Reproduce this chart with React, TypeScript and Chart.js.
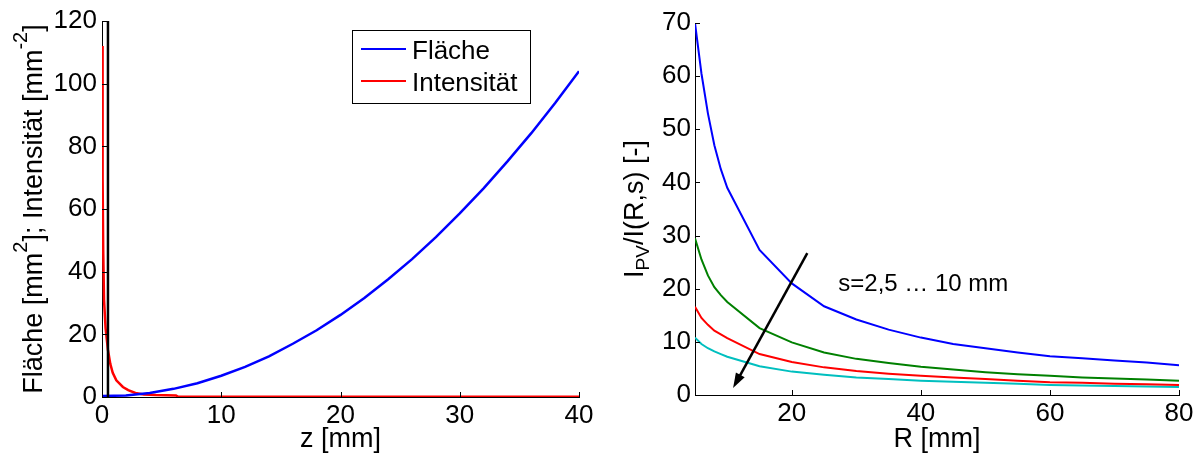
import { useEffect, useRef } from 'react';
import { Chart, registerables } from 'chart.js';

Chart.register(...registerables);

const FONT = "'Liberation Sans', Arial, Helvetica, sans-serif";

// ---------- Left panel: Fläche / Intensität over z ----------
const areaZ = [0, 2, 4, 6, 8, 10, 12, 14, 16, 18, 20, 22, 24, 26, 28, 30, 32, 34, 36, 38, 40];
const areaValues = [0.3, 0.5, 1.3, 2.6, 4.4, 6.8, 9.6, 13, 17, 21.3, 26.2, 31.6, 37.6, 44, 51, 58.6, 66.6, 75.2, 84.2, 93.8, 104];

const intensityZ = [0.02, 0.05, 0.1, 0.17, 0.3, 0.5, 0.7, 0.9, 1.2, 1.75, 2.2, 2.8, 3.5, 4.5, 6.2, 6.4, 40];
const intensityValues = [112, 70, 47, 31, 22, 15, 10.5, 7.7, 5.3, 3.2, 2.2, 1.3, 0.8, 0.6, 0.5, 0.05, 0.05];

const markerZ = [0.5, 0.5];
const markerValues = [0, 120];

const leftXTicks = [0, 10, 20, 30, 40];
const leftYTicks = [0, 20, 40, 60, 80, 100, 120];
const leftLegend = ['Fläche', 'Intensität'];

// ---------- Right panel: I_PV / I(R,s) over R ----------
const radiusR = [5, 6, 7, 8, 9, 10, 15, 20, 25, 30, 35, 40, 45, 50, 55, 60, 65, 70, 75, 80];
const ratioS1 = [70, 60.5, 53, 47, 42.5, 39, 27.3, 21, 16.7, 14.2, 12.3, 10.8, 9.6, 8.8, 8.0, 7.3, 6.9, 6.5, 6.1, 5.6];
const ratioS2 = [29.5, 25.5, 22.5, 20.3, 18.8, 17.5, 12.6, 9.9, 8.0, 6.8, 6.0, 5.3, 4.8, 4.3, 3.9, 3.6, 3.3, 3.1, 2.9, 2.7];
const ratioS3 = [16.6, 14.5, 13.2, 12.1, 11.4, 10.7, 7.7, 6.2, 5.2, 4.5, 4.0, 3.6, 3.3, 3.0, 2.7, 2.4, 2.3, 2.1, 2.0, 1.9];
const ratioS4 = [10.8, 9.6, 8.8, 8.2, 7.7, 7.2, 5.4, 4.4, 3.8, 3.3, 3.0, 2.7, 2.5, 2.3, 2.1, 1.9, 1.8, 1.7, 1.6, 1.5];

const rightXTicks = [20, 40, 60, 80];
const rightYTicks = [0, 10, 20, 30, 40, 50, 60, 70];
const annotationText = 's=2,5 … 10 mm';
const annotationPos = [27.2, 19.6];
const arrowFrom = [22.4, 26.7];
const arrowTo = [10.9, 1.3];

type Seg = { t: string; size: number; dy: number };

function drawRich(ctx: CanvasRenderingContext2D, segs: Seg[], cx: number, cy: number, angle: number) {
  ctx.save();
  ctx.translate(cx, cy);
  ctx.rotate(angle);
  let total = 0;
  const widths = segs.map((s) => {
    ctx.font = `${s.size}px ${FONT}`;
    const w = ctx.measureText(s.t).width;
    total += w;
    return w;
  });
  let x = -total / 2;
  ctx.fillStyle = '#000';
  ctx.textBaseline = 'alphabetic';
  ctx.textAlign = 'left';
  segs.forEach((s, i) => {
    ctx.font = `${s.size}px ${FONT}`;
    ctx.fillText(s.t, x, s.dy);
    x += widths[i];
  });
  ctx.restore();
}

function drawTickMarks(chart: any) {
  const { ctx, chartArea, scales } = chart;
  ctx.save();
  ctx.strokeStyle = '#000';
  ctx.lineWidth = 1;
  ctx.beginPath();
  scales.x.ticks.forEach((t: any) => {
    const px = Math.round(scales.x.getPixelForValue(t.value)) + 0.5;
    ctx.moveTo(px, chartArea.bottom);
    ctx.lineTo(px, chartArea.bottom - 5);
  });
  scales.y.ticks.forEach((t: any) => {
    const py = Math.round(scales.y.getPixelForValue(t.value)) + 0.5;
    ctx.moveTo(chartArea.left, py);
    ctx.lineTo(chartArea.left + 5, py);
  });
  ctx.stroke();
  ctx.restore();
}

const zip = (xs: number[], ys: number[]) => xs.map((x, i) => ({ x, y: ys[i] }));

const leftPlugin = {
  id: 'leftDecor',
  afterDraw(chart: any) {
    const { ctx, chartArea } = chart;
    drawTickMarks(chart);
    const cy = (chartArea.top + chartArea.bottom) / 2;
    drawRich(
      ctx,
      [
        { t: 'Fläche [mm', size: 27, dy: 0 },
        { t: '2', size: 20, dy: -15 },
        { t: ']; Intensität [mm', size: 27, dy: 0 },
        { t: '-2', size: 20, dy: -15 },
        { t: ']', size: 27, dy: 0 },
      ],
      42,
      cy,
      -Math.PI / 2
    );
    drawRich(ctx, [{ t: 'z [mm]', size: 27, dy: 0 }], (chartArea.left + chartArea.right) / 2, 447, 0);

    // legend
    ctx.save();
    ctx.fillStyle = '#fff';
    ctx.fillRect(352.5, 30.5, 178, 73);
    ctx.strokeStyle = '#000';
    ctx.lineWidth = 1;
    ctx.strokeRect(352.5, 30.5, 178, 73);
    const cols = ['#0000ff', '#ff0000'];
    const rows = [49, 81];
    ctx.font = `26px ${FONT}`;
    ctx.textBaseline = 'alphabetic';
    ctx.textAlign = 'left';
    leftLegend.forEach((lbl, i) => {
      ctx.strokeStyle = cols[i];
      ctx.lineWidth = 2;
      ctx.beginPath();
      ctx.moveTo(361, rows[i]);
      ctx.lineTo(406, rows[i]);
      ctx.stroke();
      ctx.fillStyle = '#000';
      ctx.fillText(lbl, 412, rows[i] + 9.5);
    });
    ctx.restore();
  },
};

const rightPlugin = {
  id: 'rightDecor',
  afterDraw(chart: any) {
    const { ctx, chartArea, scales } = chart;
    drawTickMarks(chart);
    const cy = (chartArea.top + chartArea.bottom) / 2;
    drawRich(
      ctx,
      [
        { t: 'I', size: 27, dy: 0 },
        { t: 'PV', size: 19, dy: 6 },
        { t: '/I(R,s) [-]', size: 27, dy: 0 },
      ],
      43,
      cy,
      -Math.PI / 2
    );
    drawRich(ctx, [{ t: 'R [mm]', size: 27, dy: 0 }], (chartArea.left + chartArea.right) / 2, 447, 0);

    // annotation text
    ctx.save();
    ctx.font = `24px ${FONT}`;
    ctx.fillStyle = '#000';
    ctx.textAlign = 'left';
    ctx.textBaseline = 'alphabetic';
    ctx.fillText(annotationText, scales.x.getPixelForValue(annotationPos[0]), scales.y.getPixelForValue(annotationPos[1]));

    // arrow
    const x1 = scales.x.getPixelForValue(arrowFrom[0]);
    const y1 = scales.y.getPixelForValue(arrowFrom[1]);
    const x2 = scales.x.getPixelForValue(arrowTo[0]);
    const y2 = scales.y.getPixelForValue(arrowTo[1]);
    const ang = Math.atan2(y2 - y1, x2 - x1);
    const headLen = 15;
    const headW = 5;
    const bx = x2 - headLen * Math.cos(ang);
    const by = y2 - headLen * Math.sin(ang);
    ctx.strokeStyle = '#000';
    ctx.lineWidth = 2.5;
    ctx.beginPath();
    ctx.moveTo(x1, y1);
    ctx.lineTo(bx + 3 * Math.cos(ang), by + 3 * Math.sin(ang));
    ctx.stroke();
    ctx.fillStyle = '#000';
    ctx.beginPath();
    ctx.moveTo(x2, y2);
    ctx.lineTo(bx + headW * Math.sin(ang), by - headW * Math.cos(ang));
    ctx.lineTo(bx - headW * Math.sin(ang), by + headW * Math.cos(ang));
    ctx.closePath();
    ctx.fill();
    ctx.restore();
  },
};

function makeScale(min: number, max: number, ticks: number[], axis: 'x' | 'y', fitSize: number, pad: number) {
  return {
    type: 'linear',
    min,
    max,
    grid: { display: false, drawTicks: false },
    border: { display: true, color: '#000', width: 1 },
    ticks: { color: '#000', font: { family: FONT, size: 26 }, padding: pad },
    afterBuildTicks: (s: any) => {
      s.ticks = ticks.map((v) => ({ value: v }));
    },
    afterFit: (s: any) => {
      if (axis === 'x') s.height = fitSize;
      else s.width = fitSize;
    },
  } as any;
}

export default function App() {
  const leftRef = useRef<HTMLCanvasElement>(null);
  const rightRef = useRef<HTMLCanvasElement>(null);

  useEffect(() => {
    Chart.defaults.color = '#000';
    const left = new Chart(leftRef.current!, {
      type: 'line',
      data: {
        datasets: [
          { label: 'marker', data: zip(markerZ, markerValues), borderColor: '#000', borderWidth: 2.5, pointRadius: 0 },
          { label: leftLegend[0], data: zip(areaZ, areaValues), borderColor: '#0000ff', borderWidth: 2.5, pointRadius: 0 },
          { label: leftLegend[1], data: zip(intensityZ, intensityValues), borderColor: '#ff0000', borderWidth: 2.5, pointRadius: 0 },
        ],
      },
      options: {
        animation: false,
        responsive: false,
        events: [],
        layout: { padding: { left: 0, top: 21, right: 21, bottom: 0 } },
        elements: { line: { tension: 0 } },
        plugins: { legend: { display: false }, tooltip: { enabled: false } },
        scales: {
          x: makeScale(0, 40, leftXTicks, 'x', 62, 3),
          y: makeScale(0, 120, leftYTicks, 'y', 102, 5),
        },
      } as any,
      plugins: [leftPlugin],
    });

    const right = new Chart(rightRef.current!, {
      type: 'line',
      data: {
        datasets: [
          { label: 's1', data: zip(radiusR, ratioS1), borderColor: '#0000ff', borderWidth: 2, pointRadius: 0 },
          { label: 's2', data: zip(radiusR, ratioS2), borderColor: '#008000', borderWidth: 2, pointRadius: 0 },
          { label: 's3', data: zip(radiusR, ratioS3), borderColor: '#ff0000', borderWidth: 2, pointRadius: 0 },
          { label: 's4', data: zip(radiusR, ratioS4), borderColor: '#00bfbf', borderWidth: 2, pointRadius: 0 },
        ],
      },
      options: {
        animation: false,
        responsive: false,
        events: [],
        layout: { padding: { left: 0, top: 23, right: 23, bottom: 0 } },
        elements: { line: { tension: 0 } },
        plugins: { legend: { display: false }, tooltip: { enabled: false } },
        scales: {
          x: makeScale(5, 80, rightXTicks, 'x', 64, 3),
          y: makeScale(0, 70, rightYTicks, 'y', 95, 4),
        },
      } as any,
      plugins: [rightPlugin],
    });

    return () => {
      left.destroy();
      right.destroy();
    };
  }, []);

  return (
    <div style={{ position: 'absolute', left: 0, top: 0, width: 1202, height: 459, background: '#fff', overflow: 'hidden' }}>
      <canvas ref={leftRef} width={600} height={459} style={{ position: 'absolute', left: 0, top: 0 }} />
      <canvas ref={rightRef} width={602} height={459} style={{ position: 'absolute', left: 600, top: 0 }} />
    </div>
  );
}
